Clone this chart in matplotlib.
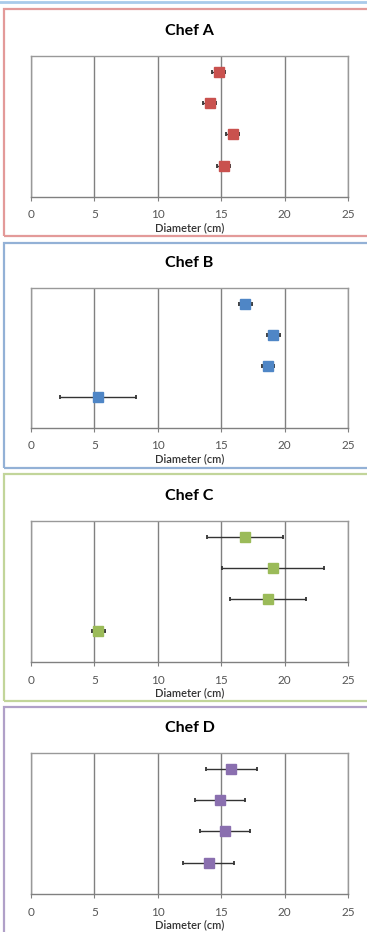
import matplotlib.pyplot as plt
from matplotlib.patches import Rectangle
from matplotlib.lines import Line2D

plt.rcParams['font.family'] = ['Lato', 'DejaVu Sans']

chefs = ['Chef A', 'Chef B', 'Chef C', 'Chef D']
rows = [4, 3, 2, 1]

chef_a = [14.8, 14.1, 15.9, 15.2]
err_a = [0.5, 0.5, 0.5, 0.5]
chef_b = [16.9, 19.1, 18.7, 5.3]
err_b = [0.5, 0.5, 0.5, 3.0]
chef_c = [16.9, 19.1, 18.7, 5.3]
err_c = [3.0, 4.0, 3.0, 0.5]
chef_d = [15.8, 14.9, 15.3, 14.0]
err_d = [2.0, 2.0, 2.0, 2.0]

values = [chef_a, chef_b, chef_c, chef_d]
errors = [err_a, err_b, err_c, err_d]
colors = ['#C9514E', '#4F86C6', '#9BBB59', '#8A6FAF']
frame_colors = ['#E39A99', '#93B1D6', '#C2D59A', '#B0A0C8']

W, H = 367, 932
fig = plt.figure(figsize=(W / 100, H / 100), dpi=100)

# pixel layout: (frame top, frame bottom, plot top, plot bottom)
layout = [(9, 236, 56, 197), (243, 468, 288, 428), (474, 701, 521, 662), (707, 945, 753, 894)]

fig.add_artist(Line2D([0, 1], [1 - 1.5 / H, 1 - 1.5 / H], color='#A9CBEA', lw=2))

for i, (ft, fb, pt, pb) in enumerate(layout):
    fig.add_artist(Rectangle((4 / W, 1 - fb / H), 1.1, (fb - ft) / H, fill=False,
                             edgecolor=frame_colors[i], lw=1.6))
    ax = fig.add_axes([31 / W, 1 - pb / H, 317 / W, (pb - pt) / H])
    ax.errorbar(values[i], rows, xerr=errors[i], fmt='s', color=colors[i],
                markersize=6.5, ecolor='#333333', elinewidth=1, capsize=1.5, capthick=1.3)
    ax.set_xlim(0, 25)
    ax.set_ylim(0, 4.5)
    ax.set_xticks([0, 5, 10, 15, 20, 25])
    ax.set_yticks([])
    ax.grid(axis='x', color='#808080', lw=1)
    ax.set_axisbelow(True)
    for s in ax.spines.values():
        s.set_color('#999999')
        s.set_linewidth(1)
    ax.spines['bottom'].set_color('#808080')
    ax.tick_params(axis='x', length=3, color='#808080', pad=6, labelsize=8.5, labelcolor='#555555')
    ax.set_xlabel('Diameter (cm)', fontsize=8, fontweight='semibold', labelpad=1, color='#333333')
    ax.set_title(chefs[i], fontsize=11.5, fontweight='bold', pad=15)

fig.savefig('out.png', dpi=100)
